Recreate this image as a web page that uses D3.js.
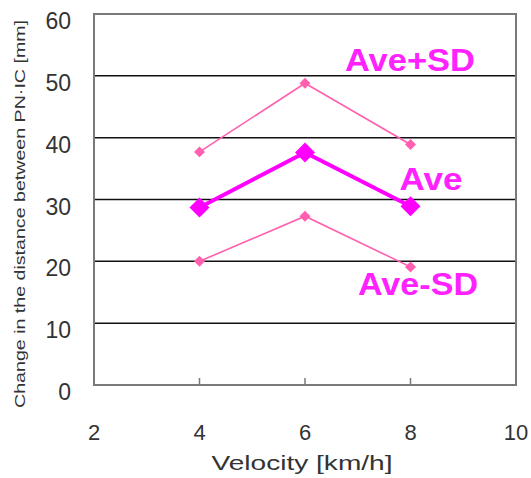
<!DOCTYPE html>
<html>
<head>
<meta charset="utf-8">
<script src="https://cdn.jsdelivr.net/npm/d3@7"></script>
<style>
  body { margin: 0; background: #fff; }
  text { font-family: "Liberation Sans", Arial, sans-serif; }
</style>
</head>
<body>
<div id="container" style="width:531px;height:478px"></div>
<script>
const velocity = [4, 6, 8];
const avePlusSD = [37.7, 48.8, 38.9];
const ave = [28.7, 37.6, 28.9];
const aveMinusSD = [20.0, 27.3, 19.1];
const xTicks = [2, 4, 6, 8, 10];
const yTicks = [0, 10, 20, 30, 40, 50, 60];
const gridValues = [10, 20, 30, 40, 50];

const width = 531, height = 478;
const plot = { left: 94, right: 516, top: 14, bottom: 385 };

const svg = d3.select("#container")
    .append("svg")
    .attr("width", width)
    .attr("height", height);

const x = d3.scaleLinear().domain([2, 10]).range([plot.left, plot.right]);
const y = d3.scaleLinear().domain([0, 60]).range([plot.bottom, plot.top]);

// grid lines
svg.append("g")
    .selectAll("line")
    .data(gridValues)
    .join("line")
    .attr("x1", plot.left)
    .attr("x2", plot.right)
    .attr("y1", d => y(d))
    .attr("y2", d => y(d))
    .attr("stroke", "#111")
    .attr("stroke-width", 1.5);

// frame
svg.append("rect")
    .attr("x", plot.left)
    .attr("y", plot.top)
    .attr("width", plot.right - plot.left)
    .attr("height", plot.bottom - plot.top)
    .attr("fill", "none")
    .attr("stroke", "#7a7a7a")
    .attr("stroke-width", 2);

// inner ticks
svg.append("g")
    .selectAll("line")
    .data(xTicks.slice(1, -1))
    .join("line")
    .attr("x1", d => x(d)).attr("x2", d => x(d))
    .attr("y1", plot.bottom).attr("y2", plot.bottom - 7)
    .attr("stroke", "#7a7a7a").attr("stroke-width", 1.5);

// tick labels
svg.append("g")
    .selectAll("text")
    .data(yTicks)
    .join("text")
    .attr("x", 71)
    .attr("y", d => y(d) + 15)
    .attr("text-anchor", "end")
    .attr("font-size", 23)
    .attr("fill", "#333")
    .text(d => d);

svg.append("g")
    .selectAll("text")
    .data(xTicks)
    .join("text")
    .attr("x", d => x(d))
    .attr("y", 440)
    .attr("text-anchor", "middle")
    .attr("font-size", 22)
    .attr("fill", "#333")
    .text(d => d);

// axis titles
svg.append("text")
    .attr("x", 302)
    .attr("y", 470)
    .attr("text-anchor", "middle")
    .attr("font-size", 21)
    .attr("fill", "#333")
    .attr("textLength", 181)
    .attr("lengthAdjust", "spacingAndGlyphs")
    .text("Velocity [km/h]");

svg.append("text")
    .attr("transform", "translate(25,214) rotate(-90)")
    .attr("text-anchor", "middle")
    .attr("font-size", 14)
    .attr("fill", "#333")
    .attr("textLength", 388)
    .attr("lengthAdjust", "spacingAndGlyphs")
    .text("Change in the distance between PN\u00b7IC [mm]");

// series
const series = [
    { name: "Ave+SD", values: avePlusSD, color: "#ff5fae", width: 1.6, size: 60 },
    { name: "Ave-SD", values: aveMinusSD, color: "#ff5fae", width: 1.6, size: 60 },
    { name: "Ave", values: ave, color: "#ff00ff", width: 4, size: 200 }
];

const line = d3.line()
    .x((d, i) => x(velocity[i]))
    .y(d => y(d));

series.forEach(s => {
    svg.append("path")
        .datum(s.values)
        .attr("d", line)
        .attr("fill", "none")
        .attr("stroke", s.color)
        .attr("stroke-width", s.width);

    svg.append("g")
        .selectAll("path")
        .data(s.values)
        .join("path")
        .attr("d", d3.symbol(d3.symbolSquare, s.size))
        .attr("transform", (d, i) => `translate(${x(velocity[i])},${y(d)}) rotate(45)`)
        .attr("fill", s.color);
});

// series labels
const labels = [
    { text: "Ave+SD", x: 410, y: 71, w: 130 },
    { text: "Ave", x: 431, y: 190, w: 63 },
    { text: "Ave-SD", x: 418, y: 295, w: 120 }
];

svg.append("g")
    .selectAll("text")
    .data(labels)
    .join("text")
    .attr("x", d => d.x)
    .attr("y", d => d.y)
    .attr("text-anchor", "middle")
    .attr("font-size", 32)
    .attr("font-weight", "bold")
    .attr("fill", "#ff22ff")
    .attr("textLength", d => d.w)
    .attr("lengthAdjust", "spacingAndGlyphs")
    .text(d => d.text);
</script>
</body>
</html>
